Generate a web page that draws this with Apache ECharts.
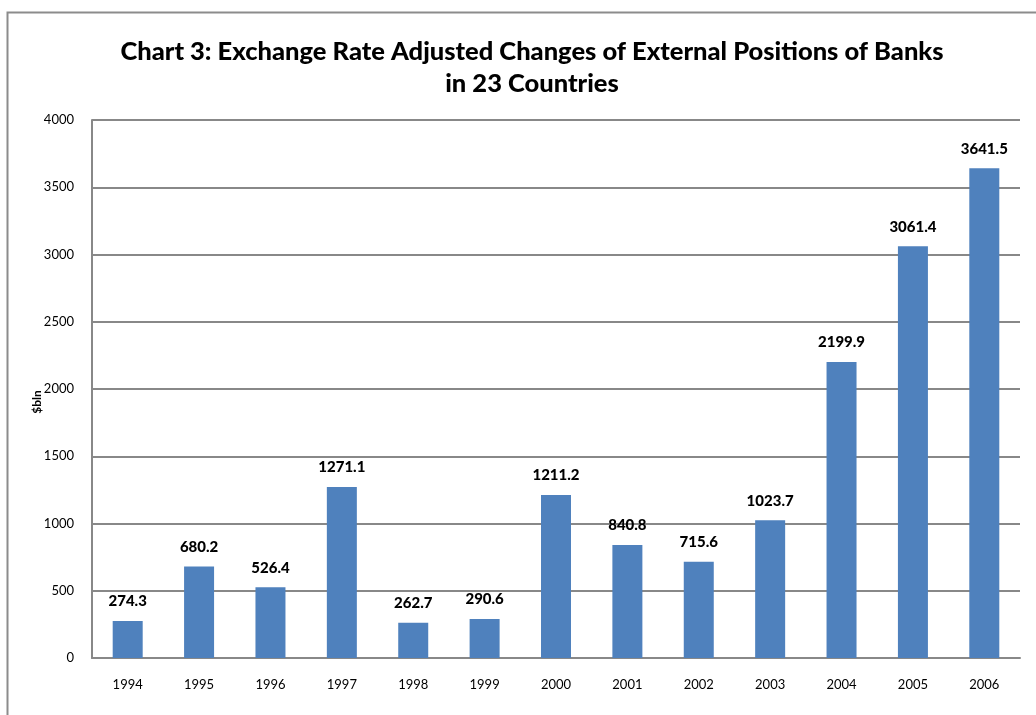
<!DOCTYPE html>
<html><head><meta charset="utf-8">
<script src="https://cdn.jsdelivr.net/npm/echarts@6/dist/echarts.min.js"></script>
<style>html,body{margin:0;padding:0;background:#fff}#c{width:1036px;height:715px}</style>
</head><body><div id="c"></div>
<script>
const categories = ['1994','1995','1996','1997','1998','1999','2000','2001','2002','2003','2004','2005','2006'];
const values = [274.3, 680.2, 526.4, 1271.1, 262.7, 290.6, 1211.2, 840.8, 715.6, 1023.7, 2199.9, 3061.4, 3641.5];
const titleText = 'Chart 3: Exchange Rate Adjusted Changes of External Positions of Banks\nin 23 Countries';
const yName = '$bln';
const chart = echarts.init(document.getElementById('c'));
const F = 'Lato, "Open Sans", sans-serif';
chart.setOption({
  animation: false,
  graphic: [
    {type:'rect', shape:{x:7.5,y:12.5,width:1100,height:800}, style:{fill:'none', stroke:'#8c8c8c', lineWidth:2}, z:-1},
    {type:'text', x:37, y:402, rotation: Math.PI/2,
      style:{text: yName, fontFamily:F, fontSize:12, fontWeight:'bold', fill:'#000', align:'center', verticalAlign:'middle'}}
  ],
  title: {text: titleText, left: 527, top: 31, textAlign: 'center',
    textStyle: {fontFamily: F, fontWeight: 900, fontSize: 25.5, color: '#000', lineHeight: 32}},
  grid: {left: 92, right: 16, top: 120, bottom: 57, containLabel: false},
  xAxis: {type:'category', data: categories,
    axisLine:{lineStyle:{color:'#888', width:2}}, axisTick:{show:false},
    axisLabel:{fontFamily:F, fontSize:13, color:'#000', margin:20}},
  yAxis: {type:'value', min:0, max:4000, interval:500,
    axisLine:{show:true, lineStyle:{color:'#888', width:2}}, axisTick:{show:false},
    splitLine:{lineStyle:{color:'#888', width:2}},
    axisLabel:{fontFamily:F, fontSize:13, color:'#000', margin:18, formatter: v => String(v)}},
  series: [{type:'bar', data: values, barWidth: 30,
    itemStyle:{color:'#4F81BD'},
    label:{show:true, position:'top', distance:12, fontFamily:F, fontWeight:900, fontSize:15, color:'#000',
      formatter: p => p.value.toFixed(1)}}]
});
</script></body></html>
